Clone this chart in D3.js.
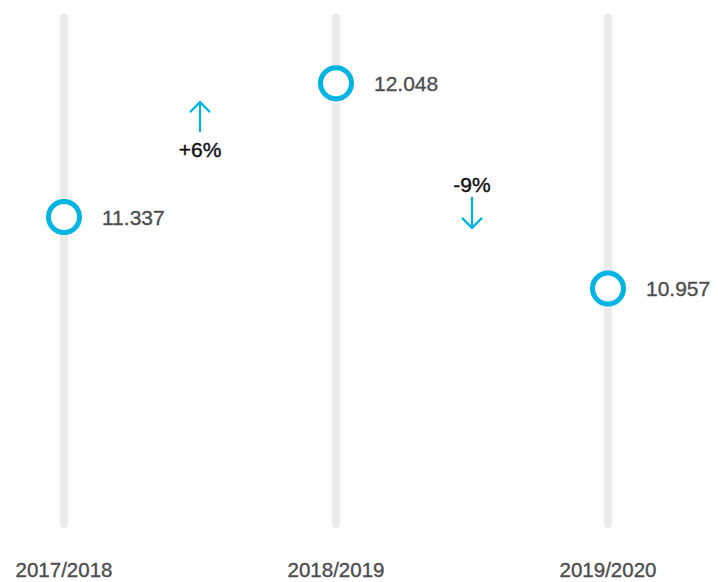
<!DOCTYPE html>
<html><head><meta charset="utf-8">
<script src="https://cdn.jsdelivr.net/npm/d3@7"></script>
<style>body{margin:0;background:#fff}svg{display:block}</style>
</head><body>
<svg id="c" width="718" height="582"></svg>
<script>
const categories = ["2017/2018", "2018/2019", "2019/2020"];
const values = [11.337, 12.048, 10.957];
const valueLabels = ["11.337", "12.048", "10.957"];
const changes = ["+6%", "-9%"];
const directions = ["up", "down"];

const svg = d3.select("#c");
const x = d3.scalePoint().domain(categories).range([64, 608]);
const y = d3.scaleLinear().domain([9.7, 12.4]).range([525, 17]);
const barTop = 14, barBottom = 528;
const cyan = "#00b4e6";

svg.selectAll("line.bar").data(categories).join("line")
  .attr("class","bar")
  .attr("x1", d => x(d)).attr("x2", d => x(d))
  .attr("y1", barTop + 4).attr("y2", barBottom - 4)
  .attr("stroke", "#ebebeb").attr("stroke-width", 8).attr("stroke-linecap", "round");

svg.selectAll("circle.pt").data(values).join("circle")
  .attr("class","pt")
  .attr("cx", (d,i) => x(categories[i])).attr("cy", d => y(d))
  .attr("r", 15.5).attr("fill", "#fff").attr("stroke", cyan).attr("stroke-width", 5);

svg.selectAll("text.val").data(values).join("text")
  .attr("class","val")
  .attr("x", (d,i) => x(categories[i]) + 38).attr("y", d => y(d))
  .attr("dy", "0.36em")
  .attr("font-family", "'Liberation Sans', Arial, sans-serif")
  .attr("font-size", 21).attr("fill", "#4d4d4f")
  .attr("stroke", "#4d4d4f").attr("stroke-width", 0.35)
  .text((d,i) => valueLabels[i]);

svg.selectAll("text.cat").data(categories).join("text")
  .attr("class","cat")
  .attr("x", d => x(d)).attr("y", 577)
  .attr("text-anchor", "middle")
  .attr("font-family", "'Liberation Sans', Arial, sans-serif")
  .attr("font-size", 20.5).attr("fill", "#4d4d4f")
  .attr("stroke", "#4d4d4f").attr("stroke-width", 0.35)
  .text(d => d);

changes.forEach((c, i) => {
  const cx = (x(categories[i]) + x(categories[i+1])) / 2;
  const mid = (y(values[i]) + y(values[i+1])) / 2;
  const g = svg.append("g");
  let a1, a2, tb;
  if (directions[i] === "up") { a1 = mid - 48; a2 = mid - 18; tb = mid + 7; }
  else { a1 = mid + 42; a2 = mid + 11; tb = mid + 6; }
  g.append("line").attr("x1", cx).attr("x2", cx).attr("y1", a2).attr("y2", a1)
    .attr("stroke", cyan).attr("stroke-width", 2.2);
  const s = directions[i] === "up" ? 1 : -1;
  g.append("path")
    .attr("d", `M${cx-10},${a1 + s*10} L${cx},${a1} L${cx+10},${a1 + s*10}`)
    .attr("fill", "none").attr("stroke", cyan).attr("stroke-width", 2.2);
  g.append("text").attr("x", cx).attr("y", tb).attr("text-anchor", "middle")
    .attr("font-family", "'Liberation Sans', Arial, sans-serif")
    .attr("font-size", 21).attr("fill", "#111")
    .attr("stroke", "#111").attr("stroke-width", 0.4)
    .text(c);
});
</script>
</body></html>
